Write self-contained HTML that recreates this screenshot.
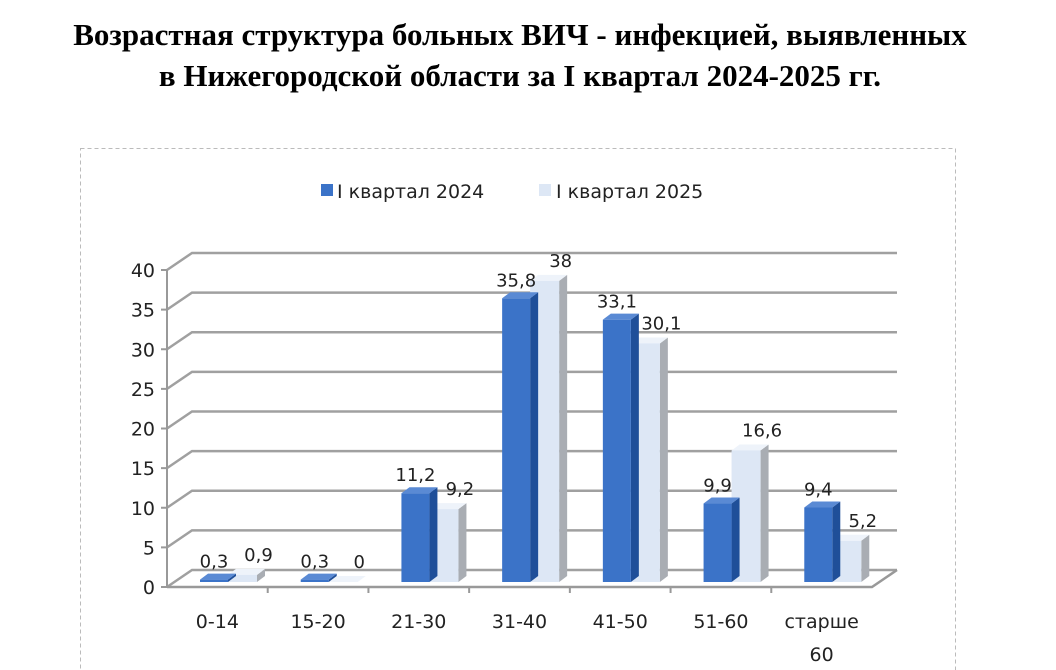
<!DOCTYPE html>
<html><head><meta charset="utf-8"><style>
body{margin:0;width:1056px;height:670px;background:#fff;overflow:hidden;font-family:"Liberation Sans",sans-serif}
#title{position:absolute;left:0;top:14px;width:1040px;text-align:center;font-family:"Liberation Serif",serif;font-weight:bold;font-size:31px;line-height:41px;color:#000;white-space:nowrap}
svg{position:absolute;left:0;top:0}
</style></head><body>
<div id="title">Возрастная структура больных ВИЧ - инфекцией, выявленных<br>в Нижегородской области за I квартал 2024-2025 гг.</div>
<svg id="c" width="1056" height="670">
<rect x="80.5" y="148.5" width="875" height="540" fill="none" stroke="#bbb" stroke-dasharray="4,3"/>
<g>
<rect x="321" y="184" width="12" height="12" fill="#3b73c8"/>
<text x="337" y="198" font-size="19" fill="#222" font-family="DejaVu Sans, sans-serif">I квартал 2024</text>
<rect x="539" y="184" width="12" height="12" fill="#dde7f5"/>
<text x="556" y="198" font-size="19" fill="#222" font-family="DejaVu Sans, sans-serif">I квартал 2025</text>
</g>
<g id="plot"></g>
</svg>
<script>
const categories=["0-14","15-20","21-30","31-40","41-50","51-60","старше 60"];
const series2024=[0.3,0.3,11.2,35.8,33.1,9.9,9.4];
const series2025=[0.9,0,9.2,38,30.1,16.6,5.2];
const labels2024=["0,3","0,3","11,2","35,8","33,1","9,9","9,4"];
const labels2025=["0,9","0","9,2","38","30,1","16,6","5,2"];
const yTicks=[0,5,10,15,20,25,30,35,40];

const NS="http://www.w3.org/2000/svg";
const g=document.getElementById('plot');
const X0=167,Y0=587,YMAX=40,H=317,CW=(872-167)/categories.length,DX=25,DY=-17;
const y=v=>Y0-v/YMAX*H;
const xc=i=>X0+i*CW;
function mk(t,a,p){const e=document.createElementNS(NS,t);for(const k in a)e.setAttribute(k,a[k]);(p||g).appendChild(e);return e;}
yTicks.forEach(t=>{
 const yy=y(t);
 const l=mk('polyline',{points:`${X0},${yy} ${X0+DX},${yy+DY} ${872+DX},${yy+DY}`,fill:'none',stroke:'#a0a0a0','stroke-width':2.5});
 
 
 mk('line',{x1:X0-6,y1:yy,x2:X0,y2:yy,stroke:'#999','stroke-width':2});
 const tx=mk('text',{x:X0-12,y:yy+7,'text-anchor':'end','font-size':19,fill:'#222','font-family':'DejaVu Sans, sans-serif'});
 tx.textContent=t;
 
 
});
mk('line',{x1:X0,y1:y(40),x2:X0,y2:Y0,stroke:'#999','stroke-width':2});
const fl=mk('polyline',{points:`${X0},${Y0} 872,${Y0} ${872+DX},${Y0+DY}`,fill:'none',stroke:'#999','stroke-width':2.5});


function bar(x,w,v,front,top,side,name,lab,lx,ly){
 const b=582,t=b-v/YMAX*H,d=8,dy=-6;
 mk('polygon',{points:`${x+w},${b} ${x+w+d},${b+dy} ${x+w+d},${t+dy} ${x+w},${t}`,fill:side});
 mk('polygon',{points:`${x},${t} ${x+d},${t+dy} ${x+w+d},${t+dy} ${x+w},${t}`,fill:top});
 const r=mk('rect',{x:x,y:t,width:w,height:b-t,fill:front});
 
 
 const tx=mk('text',{x:x+w/2+lx,y:t-ly,'text-anchor':'middle','font-size':18,fill:'#222','font-family':'DejaVu Sans, sans-serif'});
 tx.textContent=lab;
 
 
}
categories.forEach((c,i)=>{
 const x=xc(i);
 if(i>0)mk('line',{x1:x,y1:Y0,x2:x,y2:Y0+6,stroke:'#999','stroke-width':2});
 bar(x+61,29,series2025[i],'#dde7f5','#eef3fa','#a9adb3','bar-2025-'+c,labels2025[i],16,14);
 bar(x+33,28,series2024[i],'#3b73c8','#5a8ad4','#1f4f99','bar-2024-'+c,labels2024[i],0,12);
 const parts=c.split(' ');
 parts.forEach((p,k)=>{
  const tx=mk('text',{x:x+CW/2,y:628+k*33,'text-anchor':'middle','font-size':19,fill:'#222','font-family':'DejaVu Sans, sans-serif'});
  tx.textContent=p;
  
  
 });
});
</script>
</body></html>
